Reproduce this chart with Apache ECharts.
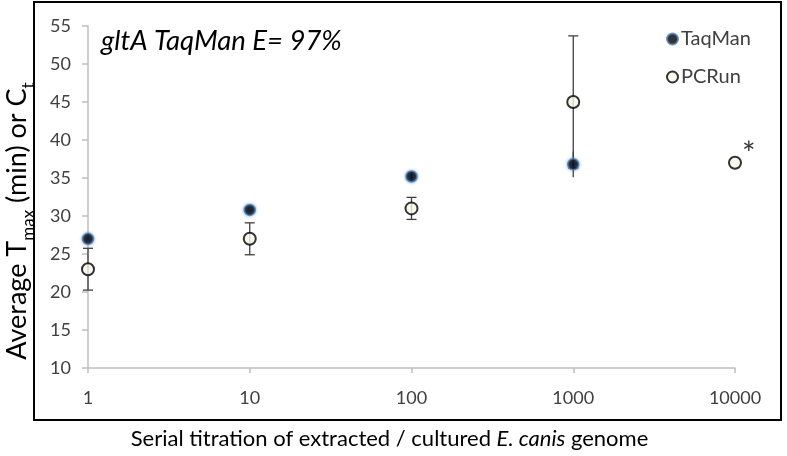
<!DOCTYPE html>
<html>
<head>
<meta charset="utf-8">
<script src="https://cdn.jsdelivr.net/npm/echarts@6/dist/echarts.min.js"></script>
<style>html,body{margin:0;padding:0;background:#fff}#c{width:787px;height:456px}</style>
</head>
<body>
<div id="c"></div>
<script>
// ---- data ----
const dilutions = [1, 10, 100, 1000, 10000];
const taqmanMean = [27.0, 30.8, 35.2, 36.8, null];
const taqmanErr = [0, 0, 0.6, 1.7, null];
const pcrunMean = [23.0, 27.0, 31.0, 45.0, 37.0];
const pcrunErr = [2.75, 2.1, 1.45, 8.7, 0];
const pcrunNote = ['', '', '', '', '*'];
const yTicks = [10, 15, 20, 25, 30, 35, 40, 45, 50, 55];
const seriesNames = ['TaqMan', 'PCRun'];
const annotation = 'gltA TaqMan E= 97%';

const FONT = 'Lato';
const chart = echarts.init(document.getElementById('c'), null, {renderer: 'canvas'});

function errData(means, errs) {
  const out = [];
  dilutions.forEach((x, i) => {
    if (means[i] != null && errs[i]) out.push([x, means[i] - errs[i], means[i] + errs[i]]);
  });
  return out;
}
function errRender(capW) {
  return function (params, api) {
    const x = api.value(0);
    const lo = api.coord([x, api.value(1)]);
    const hi = api.coord([x, api.value(2)]);
    const style = {stroke: '#404040', lineWidth: 1.3};
    const children = [{type: 'line', shape: {x1: lo[0], y1: lo[1], x2: hi[0], y2: hi[1]}, style}];
    if (capW > 0) {
      children.push({type: 'line', shape: {x1: lo[0] - capW, y1: lo[1], x2: lo[0] + capW, y2: lo[1]}, style});
      children.push({type: 'line', shape: {x1: hi[0] - capW, y1: hi[1], x2: hi[0] + capW, y2: hi[1]}, style});
    }
    return {type: 'group', children};
  };
}

const option = {
  animation: false,
  backgroundColor: '#fff',
  textStyle: {fontFamily: FONT},
  grid: {left: 88, right: 52, top: 26, bottom: 88, containLabel: false, outerBoundsMode: 'none'},
  graphic: [
    {type: 'rect', shape: {x: 34, y: 2, width: 747, height: 418}, style: {fill: 'none', stroke: '#000', lineWidth: 2}, z: 100},
    {type: 'text', left: 101, top: 28, style: {text: annotation, font: 'italic 27.5px ' + FONT, fill: '#000'}}
  ],
  legend: {
    data: seriesNames.map(n => ({name: n, icon: 'circle'})),
    orient: 'vertical', left: 661, top: 24, itemGap: 18, itemWidth: 11, itemHeight: 11,
    textStyle: {fontFamily: FONT, fontSize: 20, color: '#404040', padding: [0, 0, 0, -2]}
  },
  xAxis: {
    type: 'log', logBase: 10, min: 1, max: 10000,
    axisLine: {lineStyle: {color: '#bfbfbf', width: 1.5}},
    axisTick: {show: true, length: 5, lineStyle: {color: '#bfbfbf', width: 1.5}},
    splitLine: {show: false},
    axisLabel: {fontFamily: FONT, fontSize: 18, color: '#404040', margin: 21, formatter: v => String(v)},
    name: 'Serial titration of extracted / cultured {i|E. canis} genome',
    nameLocation: 'middle', nameGap: 60,
    nameTextStyle: {fontFamily: FONT, fontSize: 22, color: '#000', padding: [0, 44, 0, 0],
      rich: {i: {fontFamily: FONT, fontSize: 22, fontStyle: 'italic', color: '#000'}}}
  },
  yAxis: {
    type: 'value', min: yTicks[0], max: yTicks[yTicks.length - 1], interval: 5,
    axisLine: {show: true, lineStyle: {color: '#bfbfbf', width: 1.5}},
    axisTick: {show: true, length: 6, lineStyle: {color: '#bfbfbf', width: 1.5}},
    splitLine: {show: false},
    axisLabel: {fontFamily: FONT, fontSize: 18, color: '#404040', margin: 17},
    name: '{a|Average T}{s|max}{a| (min) or C}{s|t}',
    nameLocation: 'middle', nameGap: 51,
    nameTextStyle: {
      padding: [0, 48, 0, 0],
      rich: {
        a: {fontFamily: FONT, fontSize: 27, color: '#000', verticalAlign: 'bottom', padding: [0, 0, 6, 0]},
        s: {fontFamily: FONT, fontSize: 17, color: '#000', verticalAlign: 'bottom'}
      }
    }
  },
  series: [
    {type: 'custom', name: 'err1', renderItem: errRender(0), data: errData(taqmanMean, taqmanErr), z: 1, silent: true},
    {type: 'custom', name: 'err2', renderItem: errRender(5), data: errData(pcrunMean, pcrunErr), z: 1, silent: true},
    {
      type: 'scatter', name: seriesNames[0], symbol: 'circle', symbolSize: 11, z: 3,
      itemStyle: {color: '#000', borderColor: '#4f81bd', borderWidth: 1.5, shadowBlur: 3, shadowColor: 'rgba(79,129,189,0.8)'},
      data: dilutions.map((x, i) => taqmanMean[i] == null ? null : [x, taqmanMean[i]]).filter(d => d)
    },
    {
      type: 'scatter', name: seriesNames[1], symbol: 'circle', symbolSize: 12, z: 4,
      itemStyle: {color: '#f7f7ea', borderColor: '#000', borderWidth: 2},
      label: {show: true, position: 'right', distance: 0, offset: [0, -8], fontFamily: FONT, fontSize: 32, color: '#000',
        formatter: p => pcrunNote[p.dataIndex]},
      data: dilutions.map((x, i) => [x, pcrunMean[i]])
    }
  ]
};
chart.setOption(option);
</script>
</body>
</html>
